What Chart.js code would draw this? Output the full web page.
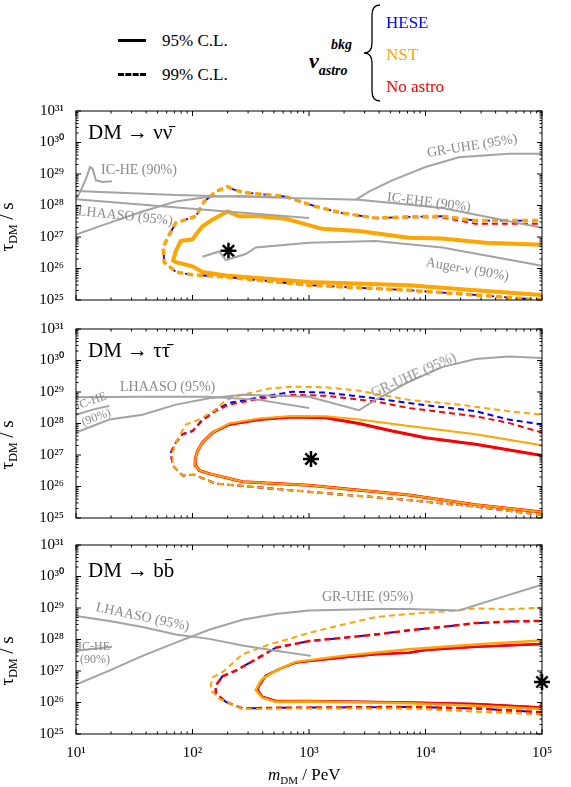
<!DOCTYPE html>
<html><head><meta charset="utf-8">
<script src="https://cdn.jsdelivr.net/npm/chart.js@4.4.0/dist/chart.umd.min.js"></script>
<style>
body{margin:0;width:571px;height:787px;background:#fff;position:relative;overflow:hidden;font-family:"Liberation Serif","DejaVu Serif",serif}
.p{position:absolute;left:0;width:571px;height:242px}
.t{position:absolute;white-space:nowrap;transform-origin:0 50%;line-height:1}
.g{color:#8a8a8a;font-size:14px}
</style></head><body>
<script>
// ---- data: pairs [log10(m_DM/PeV), log10(tau/s)] ----
const xTickLabels=['10¹','10²','10³','10⁴','10⁵'];
const yTickLabels=['10²⁵','10²⁶','10²⁷','10²⁸','10²⁹','10³⁰','10³¹'];
// Panel 1: nu nubar
const nn_c95=[[5,25.16],[4.429,25.31],[3.857,25.47],[3.0,25.57],[2.286,25.78],[2.086,25.89],[2.0,26.07],[1.857,26.2],[1.834,26.25],[1.857,26.56],[1.9,26.875],[2.0,26.93],[2.029,27.08],[2.086,27.34],[2.171,27.55],[2.3,27.81],[2.4,27.66],[2.571,27.66],[2.8,27.58],[3.114,27.26],[3.429,27.19],[3.857,26.98],[4.143,26.95],[4.514,26.82],[5,26.75]];
const nn_c99=[[5,25.0],[4.429,25.16],[3.857,25.31],[3.0,25.47],[2.286,25.73],[2.0,25.8],[1.857,25.89],[1.757,26.2],[1.749,26.67],[1.786,26.98],[1.857,27.45],[1.943,27.55],[2.029,27.66],[2.1,28.125],[2.2,28.44],[2.3,28.6],[2.343,28.52],[2.429,28.42],[2.8,28.28],[3.057,27.97],[3.286,27.76],[3.571,27.6],[3.857,27.64],[4.143,27.66],[4.429,27.52],[5,27.52]];
const nn_c99_red=[[5,25.0],[4.429,25.16],[3.857,25.31],[3.0,25.47],[2.286,25.73],[2.0,25.8],[1.857,25.89],[1.757,26.2],[1.749,26.67],[1.786,26.98],[1.857,27.45],[1.943,27.55],[2.029,27.66],[2.1,28.125],[2.2,28.44],[2.3,28.6],[2.343,28.52],[2.429,28.42],[2.8,28.28],[3.057,27.97],[3.286,27.76],[3.571,27.6],[3.857,27.62],[4.143,27.62],[4.429,27.42],[5,27.42]];
const nn_grUHE=[[3.4,28.18],[3.514,28.44],[3.714,28.8],[4.0,29.22],[4.286,29.53],[4.714,29.64],[5,29.64]];
const nn_icEHE=[[1,28.46],[1.857,28.33],[2.714,28.25],[3.429,28.18],[4.143,27.92],[5,27.29]];
const nn_lhaaso=[[1,28.2],[2.0,27.9],[3.0,27.6]];
const nn_curve=[[1,27.08],[1.286,27.45],[1.571,27.81],[1.857,28.125],[2.143,28.28],[2.429,28.3],[2.714,28.26]];
const nn_icHE=[[1,28.2],[1.043,28.49],[1.086,28.85],[1.12,29.22],[1.143,29.17],[1.171,28.8],[1.229,28.75],[1.309,28.77]];
const nn_auger=[[2.086,26.375],[2.229,26.54],[2.286,26.27],[2.457,26.46],[2.543,26.67],[3,26.82],[3.571,26.875],[4.143,26.67],[5,26.09]];
const nn_star=[[2.309,26.56]];
// Panel 2: tau taubar
const tt_hese95=[[5,25.19],[4.429,25.42],[3.857,25.73],[3.0,26.04],[2.429,26.15],[2.143,26.41],[2.057,26.51],[2.029,26.67],[2.023,26.875],[2.043,27.135],[2.086,27.4],[2.171,27.71],[2.314,27.97],[2.571,28.125],[2.857,28.21],[3.143,28.18],[3.429,28.0],[3.714,27.76],[4.0,27.55],[4.429,27.34],[5,26.98]];
const tt_nst95=[[5,25.19],[4.429,25.42],[3.857,25.73],[3.0,26.04],[2.429,26.15],[2.143,26.41],[2.057,26.51],[2.029,26.67],[2.023,26.875],[2.043,27.135],[2.086,27.4],[2.171,27.71],[2.314,28.0],[2.571,28.16],[2.857,28.24],[3.143,28.23],[3.429,28.125],[3.857,27.92],[4.429,27.66],[5,27.31]];
const tt_hese99=[[5,25.1],[4.429,25.36],[3.857,25.57],[3.0,25.83],[2.2,26.09],[2.014,26.375],[1.914,26.35],[1.829,26.67],[1.814,27.08],[1.857,27.4],[1.914,27.66],[2.0,27.76],[2.086,28.125],[2.2,28.44],[2.314,28.65],[2.6,28.85],[2.857,29.01],[3.143,28.98],[3.571,28.8],[3.857,28.65],[4.429,28.39],[4.714,28.125],[5,27.97]];
const tt_noastro99=[[5,25.1],[4.429,25.36],[3.857,25.57],[3.0,25.83],[2.2,26.09],[2.014,26.375],[1.914,26.35],[1.829,26.67],[1.814,27.08],[1.857,27.4],[1.914,27.66],[2.0,27.76],[2.086,28.1],[2.2,28.4],[2.314,28.6],[2.6,28.8],[2.857,28.91],[3.143,28.88],[3.571,28.7],[3.857,28.49],[4.429,28.23],[4.714,28.02],[5,27.71]];
const tt_nst99=[[5,25.1],[4.429,25.36],[3.857,25.57],[3.0,25.83],[2.2,26.09],[2.014,26.375],[1.914,26.35],[1.829,26.67],[1.829,27.08],[1.857,27.4],[1.943,27.97],[2.057,28.125],[2.2,28.44],[2.286,28.75],[2.429,28.91],[2.657,29.11],[2.857,29.17],[3.143,29.15],[3.429,29.04],[3.857,28.75],[4.286,28.6],[4.714,28.39],[5,28.28]];
const tt_grUHE=[[1,27.71],[1.286,28.125],[1.571,28.28],[1.857,28.6],[2.143,28.8],[2.429,28.91],[3.0,28.85],[3.429,28.42],[3.571,28.75],[3.857,29.32],[4.143,29.79],[4.429,30.05],[4.714,30.125],[5,30.08]];
const tt_lhaaso=[[1,28.83],[1.571,28.85],[2.143,28.85],[2.571,28.75],[3.0,28.49]];
const tt_icHE=[[1,28.28],[1.143,28.44],[1.286,28.56]];
const tt_star=[[3.017,26.875]];
// Panel 3: b bbar
const bb_hese95=[[5,25.84],[4.429,25.95],[3.857,26.0],[3.0,26.05],[2.714,26.05],[2.6,26.18],[2.557,26.39],[2.571,26.54],[2.629,26.85],[2.743,27.06],[2.886,27.27],[3.0,27.32],[3.286,27.43],[3.571,27.53],[3.857,27.58],[4.0,27.67],[4.429,27.77],[5,27.86]];
const bb_nst95=[[5,25.79],[4.429,25.9],[3.857,25.98],[3.0,26.03],[2.714,26.02],[2.6,26.15],[2.543,26.39],[2.571,26.6],[2.6,26.75],[2.714,27.01],[2.886,27.29],[3.286,27.48],[3.857,27.69],[4.429,27.84],[5,27.97]];
const bb_hese99=[[5,25.69],[4.429,25.81],[3.857,25.86],[2.714,25.83],[2.429,25.81],[2.286,26.02],[2.2,26.28],[2.2,26.54],[2.257,26.83],[2.371,27.01],[2.571,27.43],[2.714,27.74],[3.0,27.95],[3.286,28.05],[3.571,28.16],[3.857,28.29],[4.143,28.4],[4.429,28.52],[4.714,28.57],[5,28.59]];
const bb_nst99=[[5,25.625],[4.429,25.71],[3.857,25.81],[3.0,25.81],[2.429,25.79],[2.229,26.125],[2.157,26.39],[2.157,26.54],[2.171,26.8],[2.257,26.96],[2.429,27.53],[2.657,27.84],[2.857,28.05],[3.0,28.21],[3.286,28.47],[3.571,28.71],[3.857,28.81],[4.143,28.885],[4.429,28.99],[4.714,28.96],[5,29.01]];
const bb_grUHE=[[1,26.57],[1.286,27.01],[1.571,27.48],[1.857,27.9],[2.143,28.31],[2.429,28.625],[2.714,28.81],[3.0,28.92],[3.571,28.97],[3.857,28.97],[4.286,28.92],[4.571,29.25],[5,29.74]];
const bb_lhaaso=[[1,28.75],[1.286,28.59],[1.571,28.4],[1.857,28.16],[2.143,28.02],[2.429,27.81],[2.714,27.64],[3.017,27.48]];
const bb_icHE=[[1,27.64],[1.309,27.77]];
const bb_star=[[5,26.65]];

const BLUE='#0000ff',ORANGE='#ffa500',RED='#ff0000',GRAY='#a3a3a3';
const pts=a=>a.map(p=>({x:p[0],y:p[1]}));
function ln(d,c,w,dash){return {data:pts(d),showLine:true,borderColor:c,borderWidth:w,pointRadius:0,borderDash:dash||[],tension:0,fill:false};}
function star(d){return {data:pts(d),showLine:false,pointStyle:'star',pointRadius:8,borderColor:'#000',backgroundColor:'#000',borderWidth:2.5,clip:false};}
const D=[6,4];
const panels=[
 {top:98,xl:false,ds:[ln(nn_grUHE,GRAY,2),ln(nn_icEHE,GRAY,2),ln(nn_lhaaso,GRAY,2),ln(nn_curve,GRAY,2),ln(nn_icHE,GRAY,2),ln(nn_auger,GRAY,2),
   ln(nn_c99,ORANGE,3.5,D),ln(nn_c99_red,RED,1.8,D),ln(nn_c99,BLUE,1.8,[6,10]),ln(nn_c95,ORANGE,4),ln(nn_c95,RED,2),ln(nn_c95,BLUE,2),star(nn_star)]},
 {top:316,xl:false,ds:[ln(tt_grUHE,GRAY,2),ln(tt_lhaaso,GRAY,2),ln(tt_icHE,GRAY,2),
   ln(tt_nst99,ORANGE,2,D),ln(tt_noastro99,RED,2,D),ln(tt_hese99,BLUE,2,D),ln(tt_nst95,ORANGE,2),ln(tt_hese95,RED,3),ln(tt_hese95,BLUE,2),star(tt_star)]},
 {top:532,xl:true,ds:[ln(bb_grUHE,GRAY,2),ln(bb_lhaaso,GRAY,2),ln(bb_icHE,GRAY,2),
   ln(bb_nst99,ORANGE,2,D),ln(bb_hese99,RED,2.5,D),ln(bb_hese99,BLUE,2,[6,9]),ln(bb_nst95,ORANGE,2.5),ln(bb_hese95,RED,2.5),ln(bb_hese95,BLUE,2),star(bb_star)]}
];
const frame={id:'frame',afterDraw(c){const a=c.chartArea,x=c.scales.x,y=c.scales.y,g=c.ctx;g.save();g.strokeStyle='#000';g.lineWidth=1;g.strokeRect(a.left,a.top,a.right-a.left,a.bottom-a.top);
 g.beginPath();
 for(let n=1;n<=5;n++)for(let k=1;k<10;k++){const v=n+Math.log10(k);if(v>5)break;const px=x.getPixelForValue(v),L=k==1?5:2.5;g.moveTo(px,a.bottom);g.lineTo(px,a.bottom-L);g.moveTo(px,a.top);g.lineTo(px,a.top+L);}
 for(let n=25;n<=31;n++)for(let k=1;k<10;k++){const v=n+Math.log10(k);if(v>31)break;const py=y.getPixelForValue(v),L=k==1?5:2.5;g.moveTo(a.left,py);g.lineTo(a.left+L,py);g.moveTo(a.right,py);g.lineTo(a.right-L,py);}
 g.stroke();g.restore();}};
panels.forEach(p=>{const d=document.createElement('div');d.className='p';d.style.top=p.top+'px';const cv=document.createElement('canvas');cv.width=571;cv.height=242;d.appendChild(cv);document.body.appendChild(d);
 new Chart(cv,{type:'scatter',data:{datasets:p.ds},plugins:[frame],options:{responsive:false,animation:false,devicePixelRatio:1,
  layout:{padding:{top:10,right:29,left:0,bottom:0}},plugins:{legend:{display:false},tooltip:{enabled:false}},
  scales:{x:{type:'linear',min:1,max:5,afterFit:s=>{s.height=40},grid:{display:false},border:{display:false},
    ticks:{display:p.xl,stepSize:1,color:'#000',padding:2,font:{family:'Liberation Serif',size:15},callback:(v)=>xTickLabels[Math.round(v)-1]}},
   y:{type:'linear',min:25,max:31,afterFit:s=>{s.width=76},grid:{display:false},border:{display:false},
    ticks:{stepSize:1,color:'#000',padding:4,font:{family:'Liberation Serif',size:15},callback:(v)=>yTickLabels[Math.round(v)-25]}}}}});
});
</script>
<!-- legend -->
<div style="position:absolute;left:118px;top:39px;width:28px;border-top:3px solid #000"></div>
<div class="t" style="left:162px;top:32px;font-size:17px">95% C.L.</div>
<div style="position:absolute;left:118px;top:73px;width:28px;border-top:3px dashed #000"></div>
<div class="t" style="left:162px;top:66px;font-size:17px">99% C.L.</div>
<div class="t" style="left:309px;top:50px;font-size:22px;font-weight:bold;font-style:italic">ν<span style="font-size:14px;position:relative;top:7px">astro</span></div>
<div class="t" style="left:331px;top:38px;font-size:14px;font-weight:bold;font-style:italic">bkg</div>
<svg style="position:absolute;left:360px;top:3px" width="24" height="100"><path d="M20,2 Q12,2 12,12 L12,40 Q12,50 4,50 Q12,50 12,60 L12,88 Q12,98 20,98" fill="none" stroke="#000" stroke-width="1.3"/></svg>
<div class="t" style="left:386px;top:14px;font-size:17px;color:#0000ff">HESE</div>
<div class="t" style="left:386px;top:46px;font-size:17px;color:#ffa500">NST</div>
<div class="t" style="left:386px;top:78px;font-size:17px;color:#ff0000">No astro</div>
<!-- titles -->
<div class="t" style="left:88px;top:122px;font-size:21px">DM → νν̄</div>
<div class="t" style="left:88px;top:340px;font-size:21px">DM → ττ̄</div>
<div class="t" style="left:88px;top:560px;font-size:21px">DM → bb̄</div>
<!-- y titles -->
<div class="t" style="left:8px;top:240px;font-size:19px;transform:rotate(-90deg)">τ<sub style="font-size:12px">DM</sub> / s</div>
<div class="t" style="left:8px;top:458px;font-size:19px;transform:rotate(-90deg)">τ<sub style="font-size:12px">DM</sub> / s</div>
<div class="t" style="left:8px;top:674px;font-size:19px;transform:rotate(-90deg)">τ<sub style="font-size:12px">DM</sub> / s</div>
<div class="t" style="left:268px;top:766px;font-size:17px"><i>m</i><sub style="font-size:11px">DM</sub> / PeV</div>
<!-- curve labels -->
<div class="t g" style="left:101px;top:163px">IC-HE (90%)</div>
<div class="t g" style="left:78px;top:204px;transform:rotate(6deg)">LHAASO (95%)</div>
<div class="t g" style="left:427px;top:146px;transform:rotate(-9deg)">GR-UHE (95%)</div>
<div class="t g" style="left:387px;top:190px;transform:rotate(7deg)">IC-EHE (90%)</div>
<div class="t g" style="left:426px;top:255px;transform:rotate(10deg)">Auger-ν (90%)</div>
<div class="t g" style="left:120px;top:380px">LHAASO (95%)</div>
<div class="t g" style="left:372px;top:387px;transform:rotate(-24deg)">GR-UHE (95%)</div>
<div class="t g" style="left:76px;top:400px;font-size:12px;transform:rotate(-20deg)">IC-HE</div>
<div class="t g" style="left:82px;top:416px;font-size:12px;transform:rotate(-20deg)">(90%)</div>
<div class="t g" style="left:96px;top:600px;transform:rotate(12deg)">LHAASO (95%)</div>
<div class="t g" style="left:322px;top:590px">GR-UHE (95%)</div>
<div class="t g" style="left:78px;top:640px;font-size:12px">IC-HE</div>
<div class="t g" style="left:80px;top:653px;font-size:12px">(90%)</div>
</body></html>
